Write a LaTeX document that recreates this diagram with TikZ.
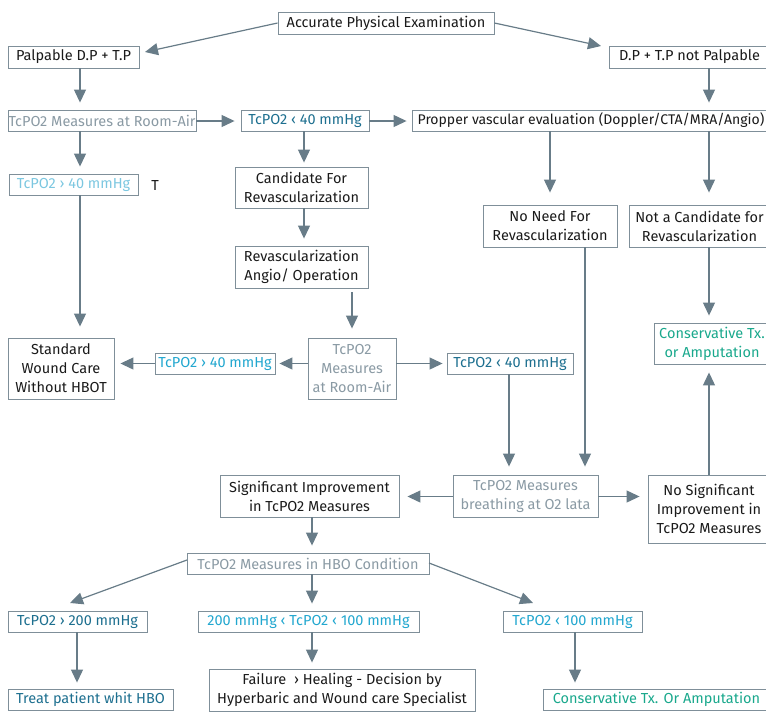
\documentclass[tikz,border=0pt]{standalone}
\usepackage{fontspec}
\setmainfont{Fira Sans}
\usetikzlibrary{arrows.meta,calc}
\definecolor{boxc}{HTML}{7F8F99}
\definecolor{arrc}{HTML}{687C88}
\definecolor{txtk}{HTML}{1A1A1A}
\definecolor{txtg}{HTML}{8A9AA4}
\definecolor{txtt}{HTML}{1D6F8F}
\definecolor{txtl}{HTML}{7CC7E0}
\definecolor{txtc}{HTML}{22A7CF}
\definecolor{txtgr}{HTML}{19A88C}
\tikzset{
  bx/.style={draw=boxc, line width=0.9pt, inner sep=0pt, align=center, text=txtk,
    font=\fontsize{14.5}{19}\selectfont},
  arr/.style={draw=arrc, line width=1.2pt, -{Triangle[length=13pt,width=12pt]}, shorten >=7pt},
}
\begin{document}
\begin{tikzpicture}[x=1pt,y=1pt]
\useasboundingbox (0,0) rectangle (766,-721);
% column / row coordinates
\coordinate (c1) at (80,0);
\coordinate (c2) at (304,0);
\coordinate (c3) at (352,0);
\coordinate (c4) at (550,0);
\coordinate (c5) at (709,0);
\coordinate (c6) at (509,0);
\coordinate (c7) at (585,0);
\coordinate (c8) at (312,0);
\coordinate (c9) at (77,0);
\coordinate (c10) at (575,0);
\coordinate (r2) at (0,-121);
\coordinate (r4) at (0,-363.5);
\coordinate (r5) at (0,-496.5);
\coordinate (palin) at (145,-52);
\coordinate (npin) at (601,-46);
\coordinate (t200in) at (70,-603);
\coordinate (t100in) at (533,-603);
\coordinate (hboL) at (187,-560);
\coordinate (hboR) at (429,-563);
% nodes
\node[bx, minimum width=216, minimum height=22] (acc) at (386,-23) {Accurate Physical Examination};
\node[bx, minimum width=131, minimum height=22] (pal) at (73.5,-57) {Palpable D.P + T.P};
\node[bx, minimum width=161, minimum height=22] (np) at (689.5,-57) {D.P + T.P not Palpable};
\node[bx, minimum width=188, minimum height=21, text=txtg] (ra) at (102,-120.5) {TcPO2 Measures at Room-Air};
\node[bx, minimum width=128, minimum height=21, text=txtt] (t40a) at (305,-120.5) {TcPO2 ‹ 40 mmHg};
\node[bx, minimum width=358, minimum height=21, font=\fontsize{14}{19}\selectfont] (prop) at (591,-120.5) {Propper vascular evaluation (Doppler/CTA/MRA/Angio)};
\node[bx, minimum width=129, minimum height=21, text=txtl] (t40l) at (73.5,-184.5) {TcPO2 › 40 mmHg};
\node[inner sep=0pt, text=txtk, font=\fontsize{14.5}{19}\selectfont] (tlab) at (155,-185) {T};
\node[bx, minimum width=133, minimum height=41] (cand) at (301.5,-187.5) {Candidate For\\Revascularization};
\node[bx, minimum width=133, minimum height=42] (rev) at (301.5,-267) {Revascularization\\Angio/ Operation};
\node[bx, minimum width=106, minimum height=61] (std) at (61,-368.5) {Standard\\Wound Care\\Without HBOT};
\node[bx, minimum width=120, minimum height=21, text=txtc] (t40m) at (215,-363.5) {TcPO2 › 40 mmHg};
\node[bx, minimum width=88, minimum height=61, text=txtg] (meas) at (352,-368.5) {TcPO2\\Measures\\at Room-Air};
\node[bx, minimum width=126, minimum height=21, text=txtt] (t40b) at (510,-363.5) {TcPO2 ‹ 40 mmHg};
\node[bx, minimum width=134, minimum height=42] (nn) at (550,-226) {No Need For\\Revascularization};
\node[bx, minimum width=141, minimum height=42] (nc) at (699.5,-226) {Not a Candidate for\\Revascularization};
\node[bx, minimum width=116, minimum height=41, text=txtgr] (cons) at (712,-343.5) {Conservative Tx.\\or Amputation};
\node[bx, minimum width=145, minimum height=42, text=txtg] (o2) at (525.5,-496) {TcPO2 Measures\\breathing at O2 lata};
\node[bx, minimum width=179, minimum height=42] (sig) at (309.5,-496) {Significant Improvement\\in TcPO2 Measures};
\node[bx, minimum width=122, minimum height=68] (ns) at (709,-509) {No Significant\\Improvement in\\TcPO2 Measures};
\node[bx, minimum width=242, minimum height=21, text=txtg] (hbo) at (308,-563.5) {TcPO2 Measures in HBO Condition};
\node[bx, minimum width=139, minimum height=21, text=txtt] (t200) at (77.5,-621.5) {TcPO2 › 200 mmHg};
\node[bx, minimum width=221, minimum height=21, text=txtc] (t2100) at (308.5,-621.5) {200 mmHg ‹ TcPO2 ‹ 100 mmHg};
\node[bx, minimum width=139, minimum height=21, text=txtc] (t100) at (572.5,-621.5) {TcPO2 ‹ 100 mmHg};
\node[bx, minimum width=165, minimum height=21, text=txtt] (treat) at (90.5,-699.5) {Treat patient whit HBO};
\node[bx, minimum width=266, minimum height=42] (fail) at (342,-690) {Failure \ › Healing - Decision by\\Hyperbaric and Wound care Specialist};
\node[bx, minimum width=227, minimum height=21, text=txtgr] (cons2) at (656.5,-699.5) {Conservative Tx. Or Amputation};
% connectors
\draw[arr, shorten >=0pt] (acc.west) -- (palin);
\draw[arr, shorten >=0pt] (acc.east) -- (npin);
\draw[arr] (pal.south -| c1) -- (ra.north -| c1);
\draw[arr, shorten >=6pt] (ra.east |- r2) -- (t40a.west |- r2);
\draw[arr, shorten >=5pt] (t40a.east |- r2) -- (prop.west |- r2);
\draw[arr] (ra.south -| c1) -- (t40l.north -| c1);
\draw[arr, shorten >=4pt] (t40a.south -| c2) -- (cand.north -| c2);
\draw[arr] (np.south -| c5) -- (prop.north -| c5);
\draw[arr, shorten >=12pt] (prop.south -| c4) -- (nn.north -| c4);
\draw[arr, shorten >=12pt] (prop.south -| c5) -- (nc.north -| c5);
\draw[arr, shorten >=11pt] (t40l.south -| c1) -- (std.north -| c1);
\draw[arr] (cand.south -| c2) -- (rev.north -| c2);
\draw[arr, shorten <=4pt, shorten >=9pt] (rev.south -| c3) -- (meas.north -| c3);
\draw[arr, shorten >=4pt] (meas.west |- r4) -- (t40m.east |- r4);
\draw[arr, shorten >=6pt] (t40m.west |- r4) -- (std.east |- r4);
\draw[arr, shorten >=4pt] (meas.east |- r4) -- (t40b.west |- r4);
\draw[arr] (nc.south -| c5) -- (cons.north -| c5);
\draw[arr, shorten >=8pt] (ns.north -| c5) -- (cons.south -| c5);
\draw[arr, shorten >=8pt] (t40b.south -| c6) -- (o2.north -| c6);
\draw[arr, shorten >=8pt] (nn.south -| c7) -- (o2.north -| c7);
\draw[arr, shorten >=8pt] (o2.west |- r5) -- (sig.east |- r5);
\draw[arr, shorten >=8pt] (o2.east |- r5) -- (ns.west |- r5);
\draw[arr] (sig.south -| c8) -- (hbo.north -| c8);
\draw[arr, shorten >=0pt] (hboL) -- (t200in);
\draw[arr, shorten >=0pt] (hboR) -- (t100in);
\draw[arr] (hbo.south -| c8) -- (t2100.north -| c8);
\draw[arr, shorten >=6pt] (t200.south -| c9) -- (treat.north -| c9);
\draw[arr, shorten >=6pt] (t2100.south -| c8) -- (fail.north -| c8);
\draw[arr, shorten >=6pt] (t100.south -| c10) -- (cons2.north -| c10);
\end{tikzpicture}
\end{document}
